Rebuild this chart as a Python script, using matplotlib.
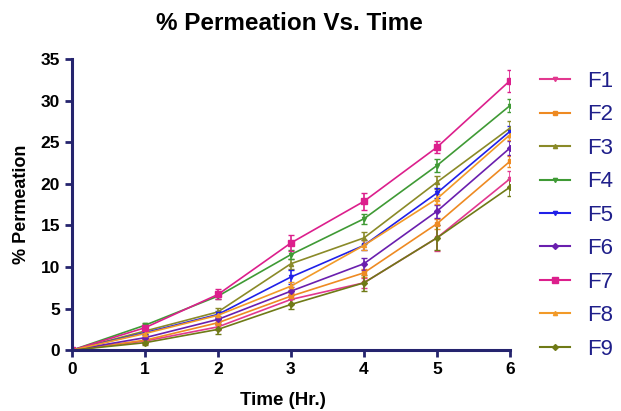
import numpy as np
import matplotlib
matplotlib.use("Agg")
import matplotlib.pyplot as plt
from matplotlib.lines import Line2D

plt.rcParams['font.family'] = ['Liberation Sans', 'DejaVu Sans']

hours = [0, 1, 2, 3, 4, 5, 6]
labels = ["F1", "F2", "F3", "F4", "F5", "F6", "F7", "F8", "F9"]

f1 = [0, 1.1, 2.8, 6.1, 8.1, 13.5, 20.6]
f2 = [0, 1.2, 3.3, 6.5, 9.3, 15.2, 22.7]
f3 = [0, 2.3, 4.6, 10.4, 13.5, 20.2, 26.7]
f4 = [0, 3.0, 6.5, 11.5, 15.8, 22.2, 29.4]
f5 = [0, 2.1, 4.3, 8.8, 12.6, 18.9, 26.3]
f6 = [0, 1.5, 3.7, 7.1, 10.4, 16.7, 24.3]
f7 = [0, 2.7, 6.7, 12.9, 17.9, 24.4, 32.4]
f8 = [0, 2.0, 4.2, 7.7, 12.6, 18.2, 25.9]
f9 = [0, 0.9, 2.5, 5.5, 8.1, 13.5, 19.6]

e1 = [0, 0.3, 0.4, 0.5, 0.6, 1.6, 1.0]
e2 = [0, 0.2, 0.3, 0.4, 0.5, 0.6, 0.7]
e3 = [0, 0.3, 0.5, 0.6, 0.7, 0.8, 0.9]
e4 = [0, 0.3, 0.4, 0.5, 0.6, 0.8, 0.8]
e5 = [0, 0.2, 0.4, 0.8, 0.6, 0.6, 0.7]
e6 = [0, 0.3, 0.3, 0.5, 0.7, 0.8, 0.8]
e7 = [0, 0.4, 0.6, 1.0, 1.0, 0.7, 1.3]
e8 = [0, 0.3, 0.4, 0.5, 0.6, 0.6, 0.6]
e9 = [0, 0.3, 0.6, 0.6, 1.0, 1.5, 1.0]

series = [f1, f2, f3, f4, f5, f6, f7, f8, f9]
errors = [e1, e2, e3, e4, e5, e6, e7, e8, e9]
colors = ["#e2388f", "#ee8a22", "#8a8a28", "#3f9a35", "#2020e8",
          "#6a1fae", "#dc1f8c", "#f29a28", "#6f7a16"]
markers = ["v", "s", "^", "v", "v", "D", "s", "^", "D"]
msizes = [3, 3, 3, 3, 3, 3, 5, 3, 3]

navy = "#25246e"

fig = plt.figure(figsize=(6.21, 4.11), dpi=100)
ax = fig.add_axes([0.116, 0.148, 0.705, 0.708])

handles = []
for y, err, c, m, ms, lab in zip(series, errors, colors, markers, msizes, labels):
    ax.errorbar(hours, y, yerr=err, color=c, marker=m, markersize=ms,
                linewidth=1.2, elinewidth=1.2, capsize=2)
    handles.append(Line2D([], [], color=c, marker=m, markersize=ms,
                          linewidth=1.5, label=lab))

ax.set_xlim(0, 6)
ax.set_ylim(0, 35)
ax.set_xticks(hours)
ax.set_yticks(np.arange(0, 36, 5))
for s in ["top", "right"]:
    ax.spines[s].set_visible(False)
for s in ["left", "bottom"]:
    ax.spines[s].set_color(navy)
    ax.spines[s].set_linewidth(2.2)
ax.tick_params(colors=navy, width=2, length=5, labelcolor="black")
for t in ax.get_xticklabels() + ax.get_yticklabels():
    t.set_fontweight("bold")
    t.set_fontsize(12.5)

# titles placed in figure pixels like the reference
fig.text(289 / 621, 1 - 24 / 411, "% Permeation Vs. Time", fontsize=17.5,
         fontweight="bold", ha="center", va="center")
fig.text(283 / 621, 1 - 400 / 411, "Time (Hr.)", fontsize=13.5,
         fontweight="bold", ha="center", va="center")
fig.text(22 / 621, 1 - 204 / 411, "% Permeation", fontsize=13,
         fontweight="bold", ha="center", va="center", rotation=90)

leg = ax.legend(handles=handles, loc="upper left", bbox_to_anchor=(540 / 621, 1 - 71 / 411),
                bbox_transform=fig.transFigure, frameon=False, fontsize=16,
                borderpad=0, borderaxespad=0,
                labelspacing=0.56, handlelength=1.35, handletextpad=0.75)
for t in leg.get_texts():
    t.set_color("#1f1f8a")

fig.savefig("out.png", dpi=100)
